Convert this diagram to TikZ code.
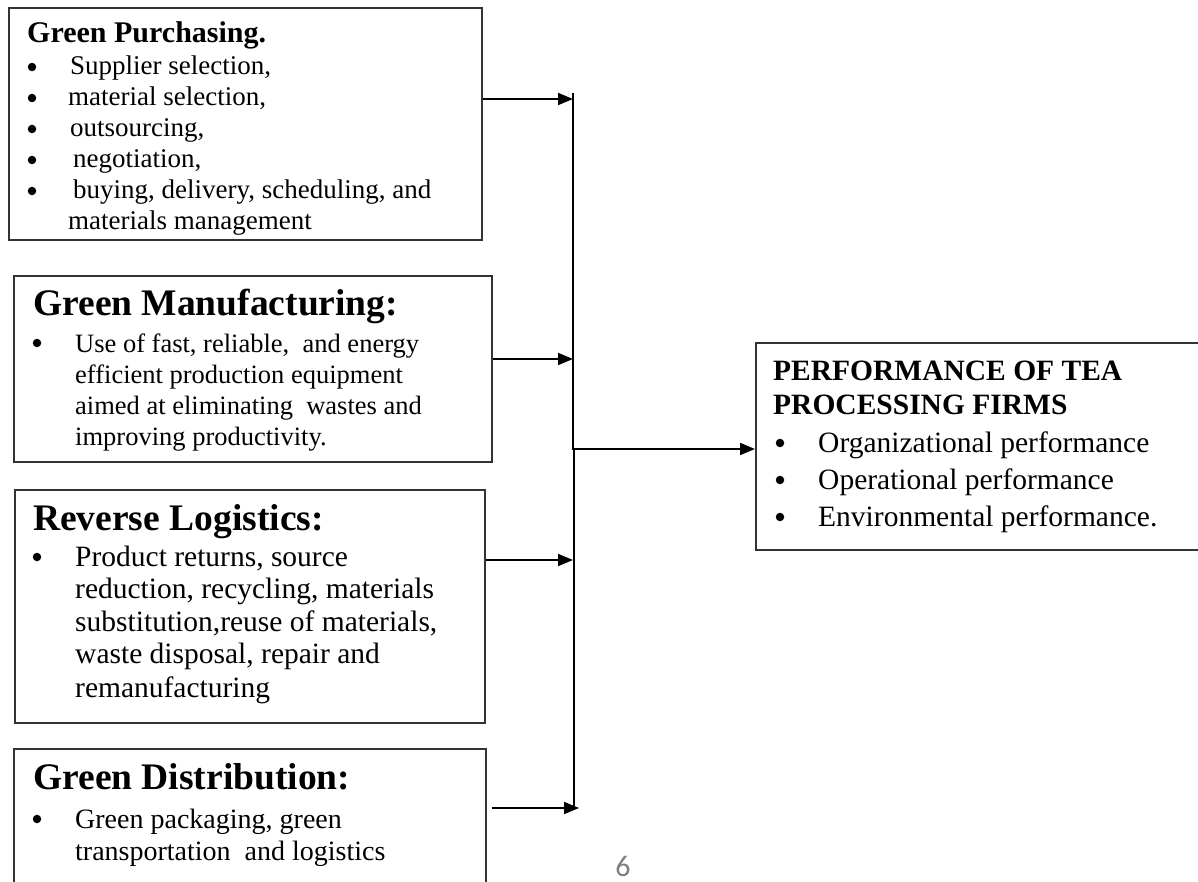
\documentclass[tikz,border=0pt]{standalone}
\usepackage{fontspec}
\setmainfont{Liberation Serif}
\newfontfamily\pgnumfont{Carlito}
\usetikzlibrary{arrows.meta}
\newcommand\ftTa{\fontsize{30}{30}\selectfont\bfseries}
\newcommand\ftTb{\fontsize{37.5}{37.5}\selectfont\bfseries}
\newcommand\ftTc{\fontsize{29.5}{29.5}\selectfont\bfseries}
\newcommand\ftBa{\fontsize{27}{27}\selectfont}
\newcommand\ftBb{\fontsize{26.5}{26.5}\selectfont}
\newcommand\ftBc{\fontsize{29.5}{29.5}\selectfont}
\newcommand\ftBd{\fontsize{28}{28}\selectfont}
\newcommand\ftBe{\fontsize{29.5}{29.5}\selectfont}
\begin{document}
\begin{tikzpicture}[x=1pt,y=-1pt,
  box/.style={draw=black!80, line width=1.6pt, inner sep=0pt, anchor=north west},
  conn/.style={line width=1.7pt, black},
  arr/.style={conn, -{Triangle[length=15pt,width=12pt]}},
  txt/.style={anchor=base west, inner sep=0pt},
  bdot/.style={circle, fill=black, inner sep=0pt, minimum size=8.5pt}]
\useasboundingbox (0,0) rectangle (1198,882);
\clip (0,0) rectangle (1198,882);
\fill[white] (0,0) rectangle (1198,882);
% boxes
\node[box, minimum width=473pt, minimum height=232pt] (b1) at (8,7) {};
\node[box, minimum width=478pt, minimum height=186pt] (b2) at (13,275) {};
\node[box, minimum width=470pt, minimum height=233pt] (b3) at (14,489) {};
\node[box, minimum width=472pt, minimum height=160pt] (b4) at (13,748) {};
\node[box, minimum width=460pt, minimum height=207pt] (b5) at (755,342) {};
% box 1 text
\node[txt] (t1) at (27,43) {\ftTa Green Purchasing.};
\node[bdot] (u11) at (32,67) {};
\node[bdot] (u12) at (32,98) {};
\node[bdot] (u13) at (32,129) {};
\node[bdot] (u14) at (32,160) {};
\node[bdot] (u15) at (32,191) {};
\node[txt] (l11) at (70,75) {\ftBa Supplier selection,};
\node[txt] (l12) at (68,106) {\ftBa material selection,};
\node[txt] (l13) at (70,137) {\ftBa outsourcing,};
\node[txt] (l14) at (73,168) {\ftBa negotiation,};
\node[txt] (l15) at (73,199) {\ftBa buying, delivery, scheduling, and};
\node[txt] (l16) at (68,230) {\ftBa materials management};
% box 2 text
\node[txt] (t2) at (33,316) {\ftTb Green Manufacturing:};
\node[bdot] (u21) at (37,343) {};
\node[txt] (l21) at (75,352) {\ftBb Use of fast, reliable, \ and energy};
\node[txt] (l22) at (75,383) {\ftBb efficient production equipment};
\node[txt] (l23) at (75,414) {\ftBb aimed at eliminating \ wastes and};
\node[txt] (l24) at (75,445) {\ftBb improving productivity.};
% box 3 text
\node[txt] (t3) at (33,530) {\ftTb Reverse Logistics:};
\node[bdot] (u31) at (37,557) {};
\node[txt] (l31) at (75,566) {\ftBc Product returns, source};
\node[txt] (l32) at (75,598) {\ftBc reduction, recycling, materials};
\node[txt] (l33) at (75,631) {\ftBc substitution,reuse of materials,};
\node[txt] (l34) at (75,663) {\ftBc waste disposal, repair and};
\node[txt] (l35) at (75,697) {\ftBc remanufacturing};
% box 4 text
\node[txt] (t4) at (33,789) {\ftTb Green Distribution:};
\node[bdot] (u41) at (37,819) {};
\node[txt] (l41) at (75,828) {\ftBd Green packaging, green};
\node[txt] (l42) at (75,860) {\ftBd transportation \ and logistics};
% box 5 text
\node[txt] (t51) at (773,380) {\ftTc PERFORMANCE OF TEA};
\node[txt] (t52) at (773,414) {\ftTc PROCESSING FIRMS};
\node[bdot] (u51) at (780,443) {};
\node[bdot] (u52) at (780,480) {};
\node[bdot] (u53) at (780,517) {};
\node[txt] (l51) at (818,452) {\ftBe Organizational performance};
\node[txt] (l52) at (818,489) {\ftBe Operational performance};
\node[txt] (l53) at (818,526) {\ftBe Environmental performance.};
% page number
\node[inner sep=0pt, text=black!50] (pg) at (623,866) {\pgnumfont\fontsize{30}{30}\selectfont 6};
% connectors
\coordinate (top) at (573,93);
\coordinate (j1) at (573,99);
\coordinate (j2) at (573,359);
\coordinate (j3) at (573,560);
\coordinate (jm) at (574,449);
\coordinate (j4) at (579,808);
\coordinate (bot) at (574,808);
\draw[conn] (top) -- (573,449) -- (jm) -- (bot);
\draw[arr] (b1.east |- j1) -- (j1);
\draw[arr] (b2.east |- j2) -- (j2);
\draw[arr] (b3.east |- j3) -- (j3);
\draw[arr] ([xshift=5pt]b4.east |- j4) -- (j4);
\draw[arr] (jm) -- (b5.west |- jm);
\end{tikzpicture}
\end{document}
